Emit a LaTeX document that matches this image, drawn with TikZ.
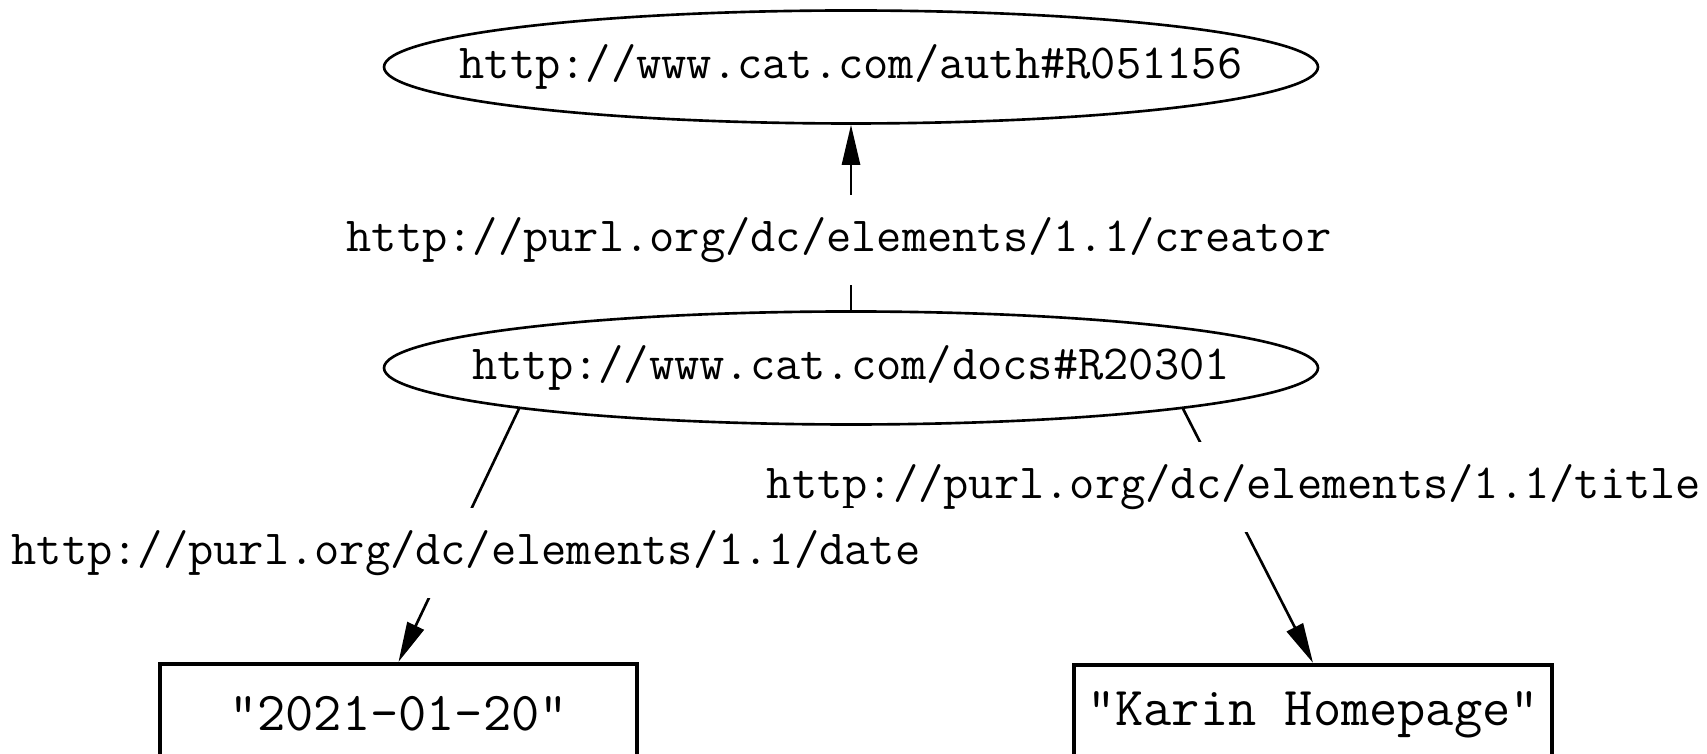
\documentclass[tikz,border=0pt]{standalone}
\usepackage{fontspec}
\usetikzlibrary{shapes.geometric,arrows.meta}

\begin{document}
\begin{tikzpicture}
[nodeEllipse/.style={shape=ellipse,draw,line width=1.5pt,inner xsep=-2cm,inner ysep=0pt,minimum width=18.68cm,minimum height=2.26cm,font=\ttfamily\fontsize{27.9}{33}\selectfont},%
  nodeLiteral/.style={shape=rectangle,draw,line width=2.4pt,inner sep=0pt,minimum width=9.55cm,minimum height=2cm,font=\ttfamily\fontsize{31.2}{37}\selectfont},%
  edgeLabel/.style={fill=white,inner xsep=4pt,inner ysep=0pt,minimum height=1.8cm,font=\ttfamily\fontsize{27.9}{33}\selectfont},%
  lineArrow/.style={-{Triangle[length=0.8cm,width=0.36cm]},line width=1.5pt}]
\useasboundingbox (0,0) rectangle (34.14,15.08);
%% resources and literals
\node (auth) at (17.02,13.74) [nodeEllipse] {http://www.cat.com/auth\#R051156};
\node (docs) at (17.02,7.72) [nodeEllipse] {http://www.cat.com/docs\#R20301};
\node (date) at (7.97,0.80) [nodeLiteral] {"2021-01-20"};
\node (karin) at (26.26,0.78) [nodeLiteral] {"Karin Homepage"};
%% properties
\foreach \startnode/\endnode in {docs.north/auth.south, docs.187/date.north, docs.353/karin.north}
{
  \draw[lineArrow] (\startnode) -- (\endnode);
}
\node (title) at (24.68,5.34) [edgeLabel] {http://purl.org/dc/elements/1.1/title};
\node (dateprop) at (9.32,4.02) [edgeLabel] {http://purl.org/dc/elements/1.1/date};
\node (creator) at (16.78,10.28) [edgeLabel] {http://purl.org/dc/elements/1.1/creator};
\end{tikzpicture}
\end{document}
